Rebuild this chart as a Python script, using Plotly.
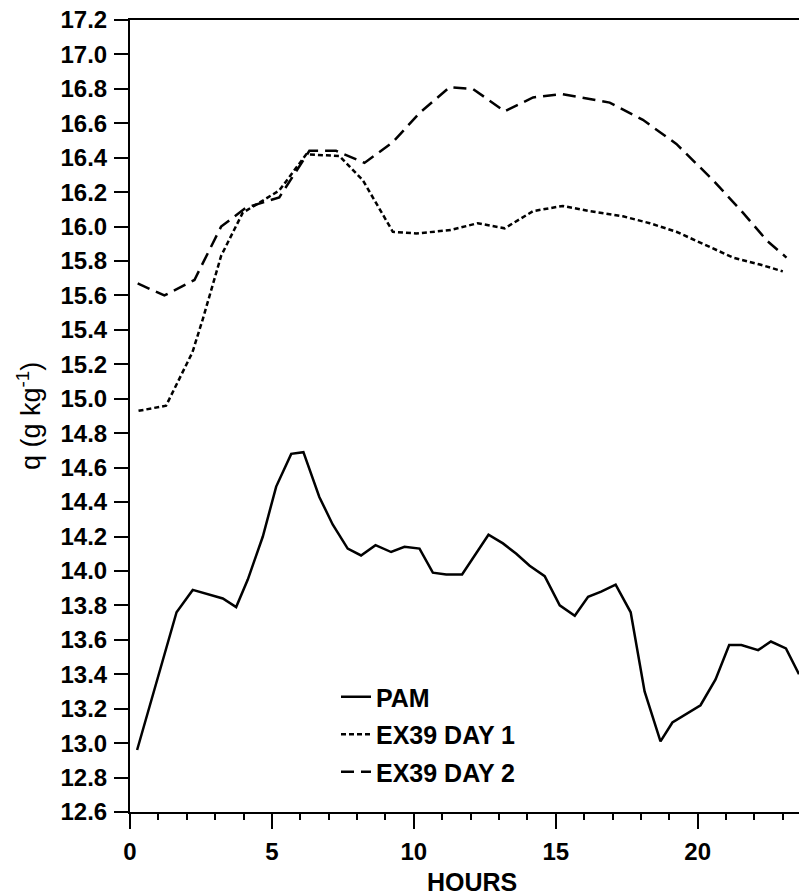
import plotly.graph_objects as go

# ---- data ----
pam_hours = [0.25, 1.64, 2.21, 3.27, 3.74, 4.15, 4.68, 5.15, 5.68, 6.11, 6.67, 7.14,
             7.67, 8.14, 8.65, 9.20, 9.67, 10.20, 10.67, 11.14, 11.70, 12.63, 13.14,
             13.61, 14.08, 14.61, 15.14, 15.67, 16.14, 16.60, 17.11, 17.64, 18.13,
             18.69, 19.11, 19.60, 20.10, 20.63, 21.11, 21.54, 22.13, 22.58, 23.11, 23.57]
pam_q = [12.96, 13.76, 13.89, 13.84, 13.79, 13.95, 14.20, 14.49, 14.68, 14.69, 14.43, 14.27,
         14.13, 14.09, 14.15, 14.11, 14.14, 14.13, 13.99, 13.98, 13.98, 14.21, 14.16,
         14.10, 14.03, 13.97, 13.80, 13.74, 13.85, 13.88, 13.92, 13.76, 13.30,
         13.01, 13.12, 13.17, 13.22, 13.37, 13.57, 13.57, 13.54, 13.59, 13.55, 13.40]

day1_hours = [0.30, 1.27, 2.20, 2.56, 3.21, 3.97, 5.26, 6.21, 7.38, 8.20, 9.26, 10.08,
              11.30, 12.25, 13.20, 14.20, 15.25, 16.20, 17.37, 18.31, 19.25, 20.19,
              21.25, 22.19, 23.00]
day1_q = [14.93, 14.96, 15.27, 15.46, 15.83, 16.08, 16.21, 16.42, 16.41, 16.27, 15.97, 15.96,
          15.98, 16.02, 15.99, 16.09, 16.12, 16.09, 16.06, 16.02, 15.97, 15.90,
          15.82, 15.78, 15.74]

day2_hours = [0.27, 1.21, 2.27, 3.21, 4.09, 5.26, 6.32, 7.26, 8.26, 9.26, 10.20, 11.26,
              12.08, 13.20, 14.20, 15.20, 16.90, 18.07, 19.25, 20.54, 21.60, 22.43, 23.13]
day2_q = [15.67, 15.60, 15.69, 16.00, 16.11, 16.17, 16.44, 16.44, 16.37, 16.49, 16.66, 16.81,
          16.80, 16.67, 16.75, 16.77, 16.72, 16.62, 16.48, 16.27, 16.08, 15.92, 15.82]

series_names = ["PAM", "EX39 DAY 1", "EX39 DAY 2"]
x_ticks = [0, 5, 10, 15, 20]

FONT = "Liberation Sans, Arial, Helvetica, sans-serif"
TXT = dict(family=FONT, color="black", weight="bold")

fig = go.Figure()
fig.add_trace(go.Scatter(x=pam_hours, y=pam_q, mode="lines", name=series_names[0],
                         legendgroup="a",
                         line=dict(color="black", width=2.5, dash="solid")))
fig.add_trace(go.Scatter(x=day1_hours, y=day1_q, mode="lines", name=series_names[1],
                         legendgroup="b",
                         line=dict(color="black", width=2.5, dash="5px,3px")))
fig.add_trace(go.Scatter(x=day2_hours, y=day2_q, mode="lines", name=series_names[2],
                         legendgroup="c",
                         line=dict(color="black", width=2.5, dash="13px,7px")))

fig.update_layout(
    width=799, height=896,
    margin=dict(l=130, r=0, t=20, b=84),
    paper_bgcolor="white", plot_bgcolor="white",
    font=dict(size=24, **TXT),
    showlegend=True,
    legend=dict(x=(336 - 130) / 669, y=1 - (674 - 20) / 792, xanchor="left", yanchor="top",
                bgcolor="rgba(0,0,0,0)", borderwidth=0,
                font=dict(size=25, **TXT),
                tracegroupgap=2, traceorder="grouped"),
    xaxis=dict(range=[0, 23.57], tickmode="array", tickvals=x_ticks,
               ticktext=[str(v) for v in x_ticks],
               showline=True, linecolor="black", linewidth=2, mirror=True,
               ticks="outside", ticklen=15, tickwidth=2, tickcolor="black",
               minor=dict(dtick=1, ticks="outside", ticklen=6, tickwidth=2, tickcolor="black"),
               showgrid=False, zeroline=False, ticklabelstandoff=2,
               tickfont=dict(size=24, **TXT)),
    yaxis=dict(range=[12.6, 17.2], dtick=0.2, tick0=12.6, tickformat=".1f",
               showline=True, linecolor="black", linewidth=2, mirror=False,
               ticks="outside", ticklen=14, tickwidth=2, tickcolor="black",
               showgrid=False, zeroline=False, ticklabelstandoff=2,
               tickfont=dict(size=24, **TXT)),
    annotations=[
        dict(text="HOURS", xref="paper", yref="paper",
             x=(472 - 130) / 669, y=-(882 - 811.7) / 792, xanchor="center", yanchor="middle",
             showarrow=False, font=dict(size=25, **TXT)),
        dict(text="q (g kg<sup>-1</sup>)", xref="paper", yref="paper",
             x=(29 - 130) / 669, y=0.5, xanchor="center", yanchor="middle", textangle=-90,
             showarrow=False, font=dict(size=27, family=FONT, color="black", weight="normal")),
    ],
)

fig.write_html("out.html")
